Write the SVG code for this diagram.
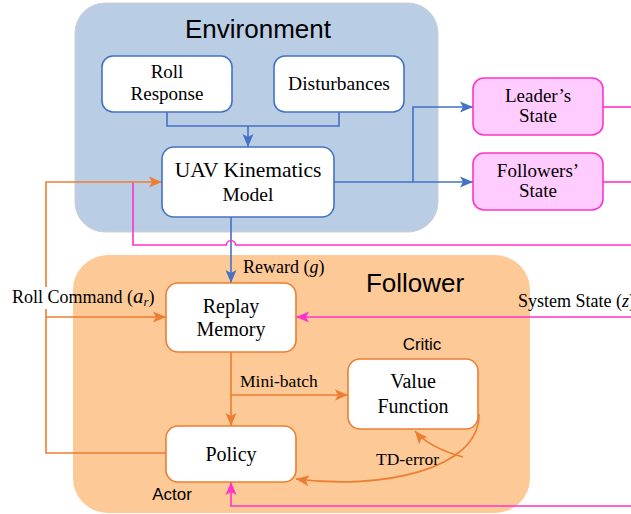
<svg xmlns="http://www.w3.org/2000/svg" width="631" height="514" viewBox="0 0 631 514">
<style>
.serif{font-family:"Liberation Serif","Times New Roman",serif;fill:#000}
.sans{font-family:"Liberation Sans",Arial,sans-serif;fill:#000}
.bbox{fill:#fff;stroke:#4472c4;stroke-width:1.6}
.obox{fill:#fff;stroke:#ed7d31;stroke-width:1.6}
.pbox{fill:#ffccff;stroke:#ff33cc;stroke-width:1.6}
.bl{fill:none;stroke:#4472c4;stroke-width:1.6}
.ol{fill:none;stroke:#ed7d31;stroke-width:1.6}
.pl{fill:none;stroke:#ff33cc;stroke-width:1.6}
</style>
<defs>
<marker id="ab" markerUnits="userSpaceOnUse" markerWidth="14" markerHeight="12" refX="13" refY="6" orient="auto"><path d="M0,0.5 L13,6 L0,11.5 L3,6 z" fill="#4472c4"/></marker>
<marker id="ao" markerUnits="userSpaceOnUse" markerWidth="14" markerHeight="12" refX="13" refY="6" orient="auto"><path d="M0,0.5 L13,6 L0,11.5 L3,6 z" fill="#ed7d31"/></marker>
<marker id="ap" markerUnits="userSpaceOnUse" markerWidth="14" markerHeight="12" refX="13" refY="6" orient="auto"><path d="M0,0.5 L13,6 L0,11.5 L3,6 z" fill="#ff33cc"/></marker>
</defs>
<rect width="631" height="514" fill="#fff"/>
<g id="environment">
<rect x="75" y="3" width="363" height="229" rx="30" fill="#b9cde5" stroke="#cfcfcf" stroke-width="1"/>
<text x="258" y="38" class="sans" font-size="26" text-anchor="middle">Environment</text>
</g>
<g id="follower">
<rect x="73" y="255" width="457" height="258" rx="35" fill="#fdc997"/>
<text x="415" y="292" class="sans" font-size="26" text-anchor="middle">Follower</text>
<text x="422" y="350" class="sans" font-size="17" text-anchor="middle">Critic</text>
<text x="172" y="500" class="sans" font-size="17" text-anchor="middle">Actor</text>
</g>
<g id="connectors">
<path class="bl" d="M167 112 V126 H339 V112"/>
<path class="bl" d="M248 126 V147" marker-end="url(#ab)"/>
<path class="bl" d="M334 182 H473" marker-end="url(#ab)"/>
<path class="bl" d="M413 182 V107 H473" marker-end="url(#ab)"/>
<path class="bl" d="M231 217 V283" marker-end="url(#ab)"/>
<path class="pl" d="M603 107 H631"/>
<path class="pl" d="M603 182 H631"/>
<path class="pl" d="M631 245 H235.5 A4.5 4.5 0 0 0 226.5 245 H133 V182"/>
<path class="pl" d="M631 317 H296" marker-end="url(#ap)"/>
<path class="pl" d="M631 506 H231 V482" marker-end="url(#ap)"/>
<path class="ol" d="M166 453 H46 V182 H162" marker-end="url(#ao)"/>
<path class="ol" d="M46 317 H166" marker-end="url(#ao)"/>
<path class="ol" d="M231 352 V426" marker-end="url(#ao)"/>
<path class="ol" d="M231 395 H348" marker-end="url(#ao)"/>
<path class="ol" d="M479 414 C480 470 380 490 296 479" marker-end="url(#ao)"/>
<path class="ol" d="M463 457 C445 452 425 443 415 431" marker-end="url(#ao)"/>
<rect x="10" y="287" width="62" height="22" fill="#fff"/>
<text x="12" y="303" class="serif" font-size="18">Roll Command (<tspan font-style="italic" font-size="21">a</tspan><tspan font-style="italic" font-size="13" dy="3">r</tspan><tspan dy="-3">)</tspan></text>
<text x="243" y="273" class="serif" font-size="18">Reward (<tspan font-style="italic">g</tspan>)</text>
<text x="518" y="307" class="serif" font-size="18">System State (<tspan font-style="italic">z</tspan>)</text>
<text x="240" y="387" class="serif" font-size="17.5">Mini-batch</text>
<text x="376" y="465" class="serif" font-size="17.5">TD-error</text>
</g>
<g id="roll-response">
<rect x="102" y="56" width="130" height="56" rx="11" class="bbox"/>
<text x="167" y="78" class="serif" font-size="19" text-anchor="middle">Roll</text>
<text x="167" y="100" class="serif" font-size="19" text-anchor="middle">Response</text>
</g>
<g id="disturbances">
<rect x="274" y="56" width="130" height="56" rx="11" class="bbox"/>
<text x="339" y="90" class="serif" font-size="19.5" text-anchor="middle">Disturbances</text>
</g>
<g id="uav">
<rect x="162" y="147" width="172" height="70" rx="12" class="bbox"/>
<text x="248" y="177" class="serif" font-size="21.5" text-anchor="middle">UAV Kinematics</text>
<text x="248" y="201" class="serif" font-size="19.5" text-anchor="middle">Model</text>
</g>
<g id="leader-state">
<rect x="473" y="78" width="130" height="57" rx="11" class="pbox"/>
<text x="538" y="102" class="serif" font-size="19" text-anchor="middle">Leader’s</text>
<text x="538" y="122" class="serif" font-size="19" text-anchor="middle">State</text>
</g>
<g id="followers-state">
<rect x="473" y="153" width="130" height="57" rx="11" class="pbox"/>
<text x="538" y="177" class="serif" font-size="19" text-anchor="middle">Followers’</text>
<text x="538" y="197" class="serif" font-size="19" text-anchor="middle">State</text>
</g>
<g id="replay-memory">
<rect x="166" y="283" width="130" height="69" rx="12" class="obox"/>
<text x="231" y="313" class="serif" font-size="20" text-anchor="middle">Replay</text>
<text x="231" y="336" class="serif" font-size="20" text-anchor="middle">Memory</text>
</g>
<g id="value-function">
<rect x="348" y="359" width="130" height="70" rx="12" class="obox"/>
<text x="413" y="388" class="serif" font-size="20" text-anchor="middle">Value</text>
<text x="413" y="413" class="serif" font-size="20" text-anchor="middle">Function</text>
</g>
<g id="policy">
<rect x="166" y="426" width="130" height="56" rx="12" class="obox"/>
<text x="231" y="461" class="serif" font-size="20" text-anchor="middle">Policy</text>
</g>
</svg>
